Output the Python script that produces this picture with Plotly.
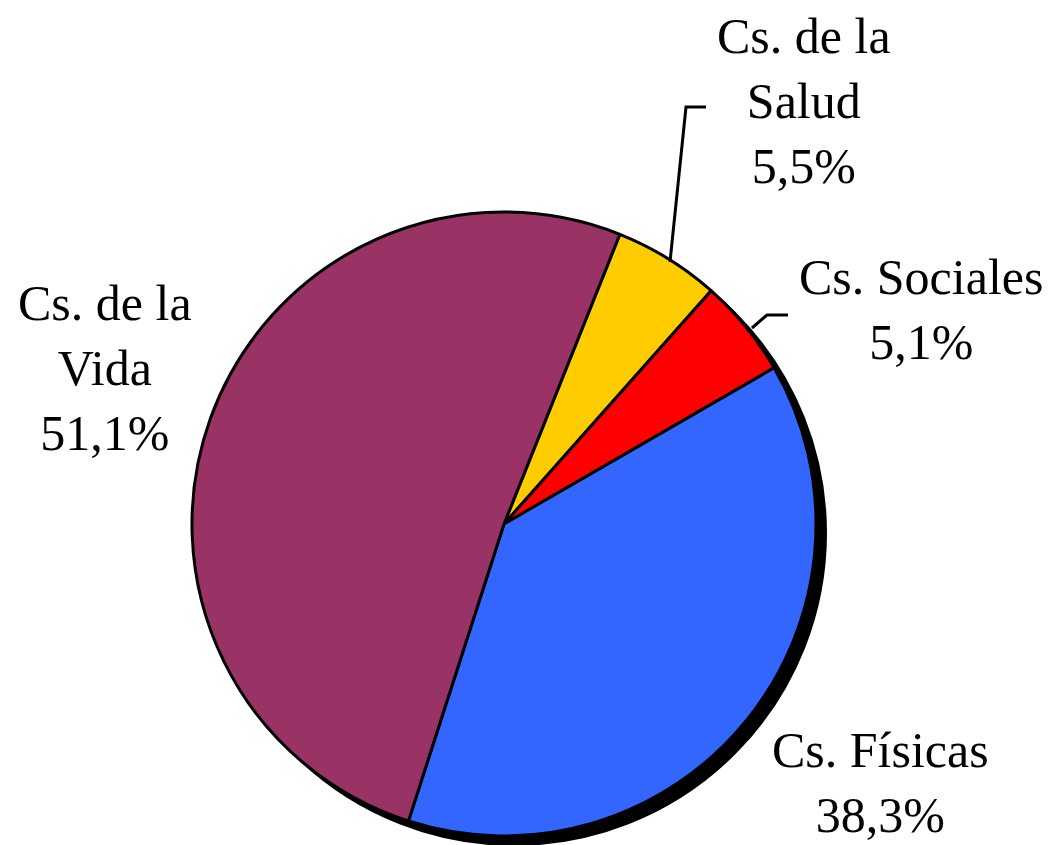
import plotly.graph_objects as go

# Data
categories = ["Cs. de la Salud", "Cs. Sociales", "Cs. Físicas", "Cs. de la Vida"]
values = [5.5, 5.1, 38.3, 51.1]
label_texts = ["Cs. de la<br>Salud<br>5,5%", "Cs. Sociales<br>5,1%",
               "Cs. Físicas<br>38,3%", "Cs. de la<br>Vida<br>51,1%"]
colors = ["#FFCC00", "#FF0000", "#3366FF", "#993366"]

# page has an 8px body margin; figure sized to fit the window
OFF = 8
W, H = 1053 - OFF, 845 - OFF

# geometry in page pixels
cx, cy, r = 504, 524, 312
sx, sy = 10, 9  # shadow offset


def px_x(x):
    return min(1, max(0, (x - OFF) / W))


def px_y(y):
    return min(1, max(0, 1 - (y - OFF) / H))


fig = go.Figure()

# shadow
fig.add_trace(go.Pie(
    values=[1], labels=["shadow"], marker=dict(colors=["black"], line=dict(color="black", width=2)),
    textinfo="none", hoverinfo="skip", sort=False, showlegend=False,
    domain=dict(x=[px_x(cx - r + sx), px_x(cx + r + sx)],
                y=[px_y(cy + r + sy), px_y(cy - r + sy)]),
))

fig.add_trace(go.Pie(
    labels=categories, values=values, sort=False, direction="clockwise", rotation=21.8,
    marker=dict(colors=colors, line=dict(color="black", width=3)),
    textinfo="none", hoverinfo="label+percent", showlegend=False,
    domain=dict(x=[px_x(cx - r), px_x(cx + r)], y=[px_y(cy + r), px_y(cy - r)]),
))

font = dict(family="Liberation Serif", size=50, color="black")
label_pos = [(804, 101), (921, 309), (880, 782), (105, 368)]
for txt, (x, y) in zip(label_texts, label_pos):
    fig.add_annotation(x=px_x(x), y=px_y(y), xref="paper", yref="paper", text=txt,
                       showarrow=False, xanchor="center", yanchor="middle", align="center",
                       font=font)

# leader lines
leaders = [
    [(670, 262), (686, 107), (706, 107)],
    [(752, 328), (767, 315), (788, 315)],
]
for pts in leaders:
    path = "M " + " L ".join(f"{px_x(x)},{px_y(y)}" for x, y in pts)
    fig.add_shape(type="path", path=path, xref="paper", yref="paper",
                  line=dict(color="black", width=3))

fig.update_layout(width=W, height=H, margin=dict(l=0, r=0, t=0, b=0),
                  paper_bgcolor="white", plot_bgcolor="white")

fig.write_html("out.html")
